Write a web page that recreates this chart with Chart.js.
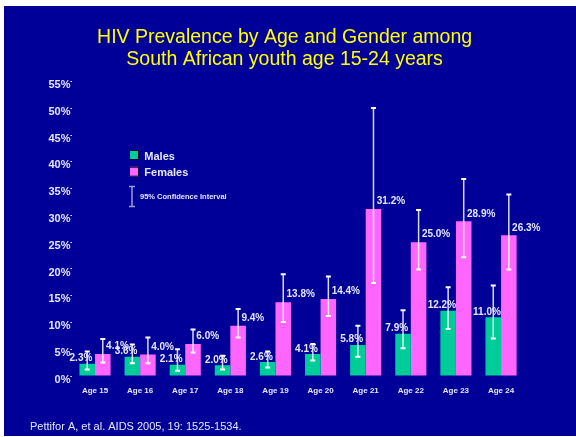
<!DOCTYPE html>
<html><head><meta charset="utf-8">
<script src="https://cdn.jsdelivr.net/npm/chart.js@4/dist/chart.umd.min.js"></script>
<style>
html,body{margin:0;padding:0;background:#fff;width:576px;height:437px;overflow:hidden}
#wrap{position:absolute;left:4px;top:6px;width:572px;height:430px;background:#000099}
</style></head><body><div id="wrap"><canvas id="c"></canvas></div>
<script>
const categories = ['Age 15','Age 16','Age 17','Age 18','Age 19','Age 20','Age 21','Age 22','Age 23','Age 24'];
const maleValues   = [2.3, 3.6, 2.1, 2.0, 2.6, 4.1, 5.8, 7.9, 12.2, 11.0];
const femaleValues = [4.1, 4.0, 6.0, 9.4, 13.8, 14.4, 31.2, 25.0, 28.9, 26.3];
const maleLow    = [1.2, 2.4, 1.0, 1.2, 1.6, 2.9, 3.6, 5.2, 8.8, 7.0];
const maleHigh   = [4.6, 5.9, 5.0, 3.8, 4.6, 6.0, 9.4, 12.3, 16.6, 16.9];
const femaleLow  = [2.5, 2.4, 4.4, 7.2, 10.1, 11.2, 17.4, 19.9, 22.2, 19.9];
const femaleHigh = [6.9, 7.2, 8.7, 12.5, 19.0, 18.6, 50.1, 31.0, 36.8, 33.9];
const yMin = 0, yMax = 55, yStep = 5;
const titleLines = ['HIV Prevalence by Age and Gender among', 'South African youth age 15-24 years'];
const seriesNames = ['Males', 'Females'];
const ciLabel = '95% Confidence Interval';
const sourceText = 'Pettifor A, et al. AIDS 2005, 19: 1525-1534.';

const FONT = '"Liberation Sans", Arial, Helvetica, sans-serif';
const TEXT = '#e6e6ff';
const lows = [maleLow, femaleLow], highs = [maleHigh, femaleHigh];

const overlay = {
  id: 'overlay',
  afterDatasetsDraw(chart) {
    const ctx = chart.ctx, y = chart.scales.y;
    ctx.save();
    // error bars
    chart.data.datasets.forEach((ds, di) => {
      const meta = chart.getDatasetMeta(di);
      meta.data.forEach((bar, i) => {
        const yl = y.getPixelForValue(lows[di][i]);
        const yh = y.getPixelForValue(highs[di][i]);
        ctx.strokeStyle = 'rgba(255,255,255,0.85)';
        ctx.lineWidth = 1.5;
        ctx.beginPath(); ctx.moveTo(bar.x, yl); ctx.lineTo(bar.x, yh); ctx.stroke();
        ctx.strokeStyle = '#ffffff';
        ctx.lineWidth = 2;
        ctx.beginPath();
        ctx.moveTo(bar.x - 2.5, yl); ctx.lineTo(bar.x + 2.5, yl);
        ctx.moveTo(bar.x - 2.5, yh); ctx.lineTo(bar.x + 2.5, yh);
        ctx.stroke();
      });
    });
    // value labels
    ctx.fillStyle = TEXT;
    ctx.font = 'bold 10px ' + FONT;
    ctx.textBaseline = 'middle';
    chart.data.datasets.forEach((ds, di) => {
      const meta = chart.getDatasetMeta(di);
      meta.data.forEach((bar, i) => {
        const txt = ds.data[i].toFixed(1) + '%';
        if (di === 0) {
          ctx.textAlign = 'center';
          ctx.fillText(txt, bar.x - bar.width / 2 + 1.5, bar.y - 5.3);
        } else {
          ctx.textAlign = 'left';
          ctx.fillText(txt, bar.x + bar.width / 2 - 4.5, bar.y - 7.5);
        }
      });
    });
    ctx.restore();
  },
  afterDraw(chart) {
    const ctx = chart.ctx;
    ctx.save();
    // title
    ctx.fillStyle = '#ffff00';
    ctx.font = '19.5px ' + FONT;
    ctx.textAlign = 'center';
    ctx.textBaseline = 'alphabetic';
    ctx.fillText(titleLines[0], 280.6, 37.3);
    ctx.fillText(titleLines[1], 280.6, 59);
    // legend
    chart.data.datasets.forEach((ds, di) => {
      const top = 144 + di * 16.7;
      ctx.fillStyle = ds.backgroundColor;
      ctx.fillRect(125, top, 10, 10);
      ctx.strokeStyle = '#000033';
      ctx.lineWidth = 1;
      ctx.strokeRect(125.5, top + 0.5, 9, 9);
      ctx.fillStyle = TEXT;
      ctx.font = 'bold 11px ' + FONT;
      ctx.textAlign = 'left';
      ctx.textBaseline = 'middle';
      ctx.fillText(ds.label, 140.3, top + 6.5);
    });
    ctx.strokeStyle = '#9a9ad8';
    ctx.lineWidth = 1.5;
    ctx.beginPath();
    ctx.moveTo(128, 180.5); ctx.lineTo(128, 200.5);
    ctx.moveTo(125, 180.5); ctx.lineTo(131, 180.5);
    ctx.moveTo(125, 200.5); ctx.lineTo(131, 200.5);
    ctx.stroke();
    ctx.fillStyle = TEXT;
    ctx.font = 'bold 7.5px ' + FONT;
    ctx.fillText(ciLabel, 136, 191.3);
    // source
    ctx.font = '11px ' + FONT;
    ctx.textBaseline = 'alphabetic';
    ctx.fillText(sourceText, 26, 424);
    ctx.restore();
  }
};

new Chart(document.getElementById('c'), {
  type: 'bar',
  data: {
    labels: categories,
    datasets: [
      { label: seriesNames[0], data: maleValues, backgroundColor: '#00cc99', borderWidth: 0 },
      { label: seriesNames[1], data: femaleValues, backgroundColor: '#ff66ff', borderWidth: 0 }
    ]
  },
  options: {
    responsive: true,
    maintainAspectRatio: false,
    animation: false,
    datasets: { bar: { categoryPercentage: 0.69, barPercentage: 1 } },
    layout: { padding: { left: 38.45, right: 52.4, top: 75.7, bottom: 40 } },
    plugins: { legend: { display: false }, tooltip: { enabled: false }, title: { display: false } },
    scales: {
      x: {
        grid: { display: false, drawTicks: false },
        border: { display: false },
        ticks: { color: TEXT, font: { family: FONT, size: 8, weight: 'bold' }, padding: 10, maxRotation: 0, autoSkip: false },
        afterFit(s) { s.height = 20; }
      },
      y: {
        min: yMin, max: yMax,
        grid: { drawOnChartArea: false, drawTicks: true, tickLength: 2, color: TEXT, lineWidth: 1 },
        border: { display: false },
        ticks: { stepSize: yStep, color: TEXT, padding: 0, labelOffset: 3.5,
                 font: { family: FONT, size: 11, weight: 'bold' },
                 callback: v => v + '%' },
        afterFit(s) { s.width = 30; }
      }
    }
  },
  plugins: [overlay]
});
</script>
</body></html>
